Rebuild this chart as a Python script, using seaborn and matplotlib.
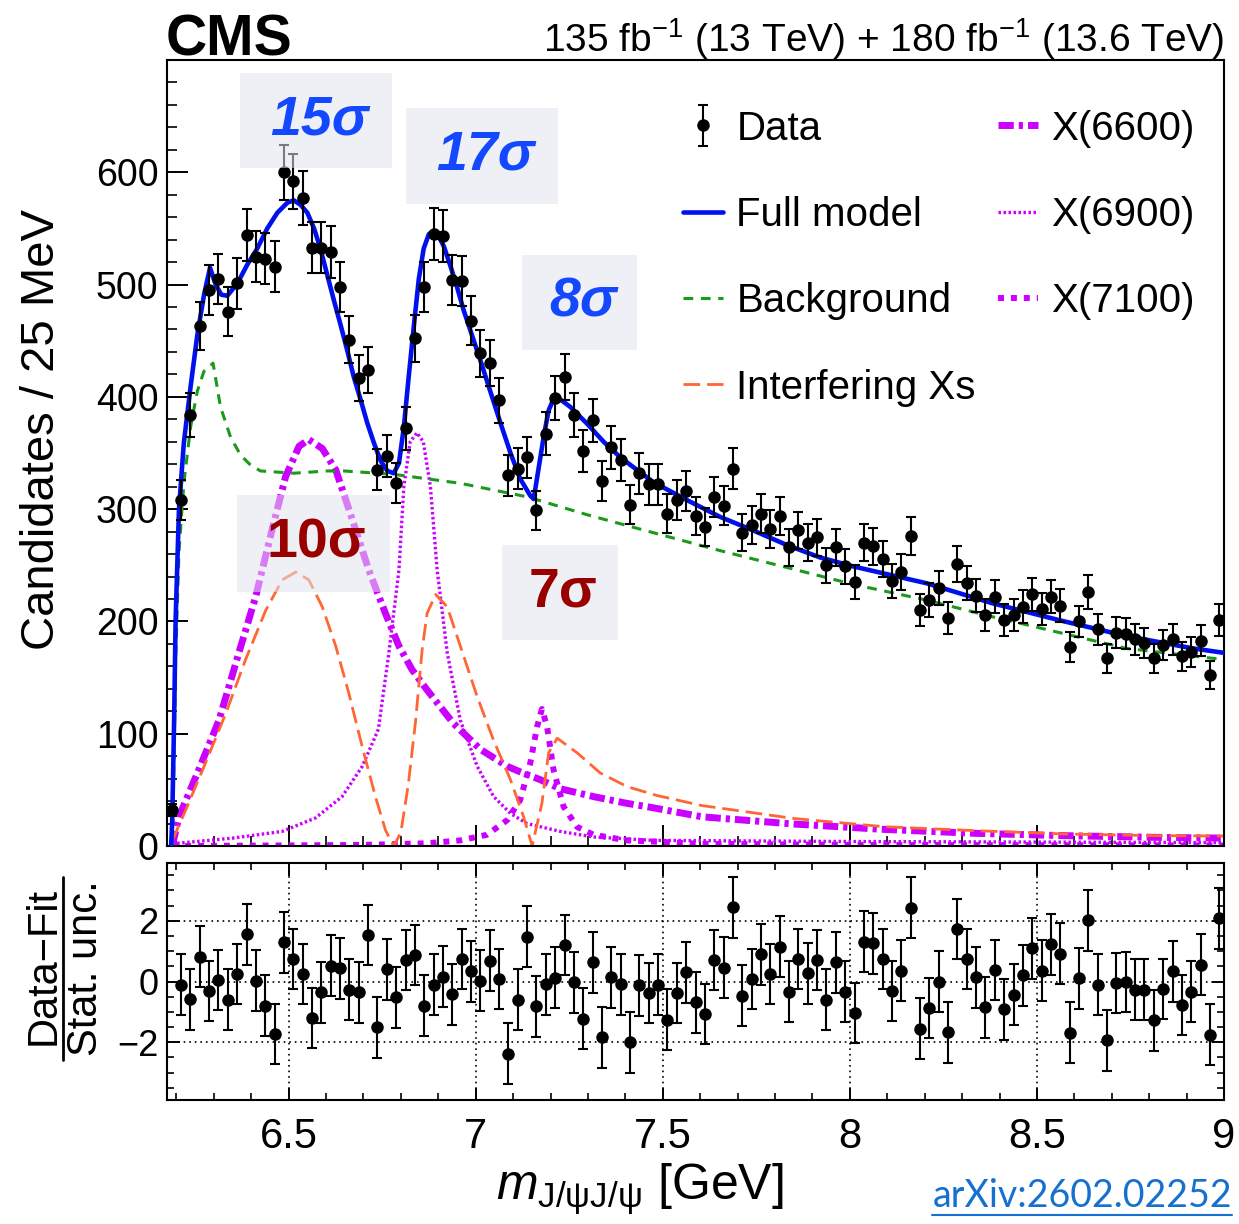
import numpy as np
import matplotlib
matplotlib.use("Agg")
import matplotlib.pyplot as plt
import seaborn as sns
from matplotlib.patches import Rectangle
from matplotlib.lines import Line2D
from matplotlib.ticker import MultipleLocator, FixedLocator, FuncFormatter

sns.set_style("ticks", {"axes.edgecolor": "black", "xtick.color": "black",
                        "ytick.color": "black", "text.color": "black",
                        "axes.labelcolor": "black"})
plt.rcParams["font.family"] = ["Liberation Sans", "DejaVu Sans"]
plt.rcParams["mathtext.fontset"] = "custom"
plt.rcParams["mathtext.rm"] = "Liberation Sans"
plt.rcParams["mathtext.it"] = "Liberation Sans:italic"
plt.rcParams["mathtext.bf"] = "Liberation Sans:bold"
plt.rcParams["lines.scale_dashes"] = False

# ---- data: candidates per 25 MeV bin, 6.175 - 9.0 GeV ----
counts = [32, 308, 384, 463, 495, 505, 476, 501, 544, 525,
          523, 516, 600, 592, 577, 533, 533, 529, 498, 451,
          417, 424, 335, 347, 323, 372, 452, 498, 545, 543,
          504, 503, 468, 439, 430, 397, 330, 336, 346, 299,
          367, 399, 418, 384, 352, 379, 325, 355, 344, 304,
          332, 322, 322, 296, 308, 316, 294, 284, 311, 303,
          336, 279, 286, 296, 282, 294, 266, 281, 270, 275,
          250, 266, 249, 235, 270, 267, 256, 236, 244, 276,
          210, 219, 230, 203, 251, 234, 223, 206, 222, 201,
          206, 213, 224, 211, 222, 214, 177, 200, 226, 193,
          167, 190, 189, 184, 181, 167, 179, 184, 169, 173,
          183, 152, 201]

# (data - fit) / stat. unc.  (first bin not shown)
pulls = [np.nan, -0.11, -0.58, 0.82, -0.31, 0.05, -0.60, 0.25, 1.55, 0.03,
         -0.80, -1.73, 1.29, 0.74, 0.25, -1.20, -0.35, 0.52, 0.44, -0.27,
         -0.36, 1.53, -1.51, 0.40, -0.52, 0.71, 0.87, -0.80, -0.11, 0.16,
         -0.42, 0.74, 0.33, 0.03, 0.68, 0.08, -2.37, -0.60, 1.48, -0.82,
         -0.09, 0.13, 1.20, -0.03, -1.22, 0.63, -1.84, 0.14, -0.09, -2.00,
         -0.13, -0.38, -0.11, -1.26, -0.38, 0.30, -0.69, -1.07, 0.71, 0.46,
         2.44, -0.47, 0.08, 0.90, 0.25, 1.15, -0.33, 0.74, 0.27, 0.71,
         -0.60, 0.63, -0.33, -1.04, 1.31, 1.26, 0.74, -0.31, 0.36, 2.43,
         -1.55, -0.87, 0.00, -1.67, 1.73, 0.74, 0.14, -0.85, 0.38, -0.91,
         -0.44, 0.20, 1.09, 0.35, 1.23, 0.91, -1.69, 0.11, 2.02, -0.11,
         -1.93, -0.05, -0.02, -0.27, -0.27, -1.28, -0.25, 0.33, -0.77, -0.33,
         0.55, -1.75, 2.08]

# fit curves (mass in GeV, candidates / 25 MeV)
model_x = [6.186, 6.189, 6.194, 6.198, 6.207, 6.220, 6.238, 6.256, 6.274, 6.290,
           6.305, 6.320, 6.336, 6.363, 6.390, 6.416, 6.443, 6.470, 6.497, 6.514,
           6.532, 6.550, 6.568, 6.585, 6.603, 6.621, 6.639, 6.657, 6.674, 6.692,
           6.710, 6.728, 6.746, 6.764, 6.781, 6.795, 6.808, 6.821, 6.835, 6.848,
           6.861, 6.875, 6.888, 6.901, 6.915, 6.933, 6.950, 6.968, 6.986, 7.013,
           7.039, 7.066, 7.093, 7.119, 7.146, 7.155, 7.168, 7.182, 7.195, 7.208,
           7.221, 7.253, 7.298, 7.342, 7.387, 7.475, 7.565, 7.654, 7.742, 7.832,
           7.920, 8.009, 8.205, 8.383, 8.561, 8.739, 8.917, 9.0]
model_y = [0, 23, 112, 201, 300, 359, 409, 455, 491, 515,
           500, 491, 490, 501, 518, 532, 550, 564, 573, 575,
           571, 564, 550, 532, 509, 486, 464, 441, 418, 398,
           377, 359, 343, 334, 332, 341, 373, 418, 464, 505,
           532, 545, 548, 543, 534, 516, 498, 477, 459, 432,
           405, 377, 350, 327, 312, 309, 336, 365, 388, 398,
           399, 391, 376, 360, 346, 324, 308, 293, 281, 268,
           257, 249, 234, 216, 201, 187, 176, 172]

bkg_x = [6.189, 6.194, 6.198, 6.207, 6.220, 6.238, 6.256, 6.274, 6.298, 6.318,
         6.345, 6.372, 6.399, 6.425, 6.470, 6.514, 6.559, 6.603, 6.648, 6.692,
         6.737, 6.781, 6.870, 6.959, 7.048, 7.137, 7.298, 7.475, 7.654, 7.832,
         8.009, 8.205, 8.383, 8.561, 8.739, 9.0]
bkg_y = [0, 83, 165, 262, 323, 373, 405, 423, 430, 391,
         364, 348, 339, 334, 333, 332, 333, 334, 334, 333,
         332, 331, 327, 323, 317, 311, 295, 279, 263, 248,
         233, 219, 204, 190, 176, 166]

intf_x = [6.189, 6.225, 6.278, 6.332, 6.385, 6.439, 6.483, 6.519, 6.554, 6.590,
          6.626, 6.661, 6.697, 6.732, 6.759, 6.781, 6.800, 6.820, 6.839, 6.857,
          6.870, 6.893, 6.924, 6.959, 7.004, 7.048, 7.093, 7.128, 7.151, 7.177,
          7.195, 7.218, 7.271, 7.333, 7.404, 7.484, 7.605, 7.848, 8.090, 8.333,
          8.576, 8.818, 9.0]
intf_y = [5, 32, 74, 118, 166, 210, 237, 244, 237, 213,
          178, 136, 88, 44, 14, 0, 12, 55, 110, 175,
          207, 224, 213, 178, 133, 94, 59, 26, 0, 38,
          83, 96, 83, 65, 53, 45, 36, 24.6, 17.2, 13.7,
          10.7, 9.2, 8.9]

x6600_x = [6.189, 6.207, 6.260, 6.314, 6.367, 6.412, 6.456, 6.492, 6.528, 6.554,
           6.590, 6.626, 6.670, 6.714, 6.759, 6.795, 6.830, 6.870, 6.941, 7.013,
           7.084, 7.119, 7.173, 7.226, 7.315, 7.404, 7.475, 7.605, 7.848, 8.090,
           8.333, 8.576, 8.818, 9.0]
x6600_y = [0, 26, 68, 112, 172, 222, 282, 329, 356, 362,
           354, 335, 291, 246, 207, 178, 157, 139, 109, 86,
           71, 66, 59, 51, 44, 38, 34, 26, 19.6, 14.8,
           11.3, 9.2, 7.7, 7.0]

x6900_x = [6.189, 6.350, 6.483, 6.572, 6.643, 6.697, 6.740, 6.768, 6.795, 6.808,
           6.825, 6.843, 6.860, 6.879, 6.897, 6.924, 6.959, 7.004, 7.048, 7.093,
           7.137, 7.226, 7.315, 7.475, 8.000, 9.0]
x6900_y = [2, 7, 13, 25, 44, 71, 104, 172, 246, 320,
           360, 368, 360, 320, 246, 172, 112, 71, 44, 29,
           20, 13, 8, 5, 4, 3]

x7100_x = [6.189, 6.500, 6.700, 6.870, 6.959, 7.030, 7.084, 7.119, 7.146, 7.164,
           7.177, 7.191, 7.208, 7.235, 7.271, 7.315, 7.404, 7.475, 7.600, 8.000, 9.0]
x7100_y = [0, 0.5, 1, 2.4, 5, 10, 23, 41, 74, 106,
           122, 106, 68, 35, 17, 10, 5, 4, 2, 1, 0.5]

legend_labels = ["Data", "Full model", "Background", "Interfering Xs",
                 "X(6600)", "X(6900)", "X(7100)"]

bin_width = 0.025
mass = 6.175 + bin_width * (np.arange(len(counts)) + 0.5)
counts = np.array(counts, dtype=float)

MAGENTA = "#cc00ff"
W, H = 1239, 1224

fig = plt.figure(figsize=(W / 100, H / 100), dpi=100)
ax = fig.add_axes([167 / W, 1 - 846 / H, 1057 / W, 786 / H])
axr = fig.add_axes([167 / W, 1 - 1100 / H, 1057 / W, 237 / H], sharex=ax)


def curve(x, y, **kw):
    sns.lineplot(x=x, y=y, ax=ax, estimator=None, sort=False, **kw)
    return ax.lines[-1]


h71 = curve(x7100_x, x7100_y, color=MAGENTA, linewidth=4.3,
            linestyle=(0, (4.3, 5.0)), zorder=2)
h69 = curve(x6900_x, x6900_y, color=MAGENTA, linewidth=2.4,
            linestyle=(0, (1.8, 1.8)), zorder=2)
h66 = curve(x6600_x, x6600_y, color=MAGENTA, linewidth=5.0,
            linestyle=(0, (11, 3.6, 3, 3.6)), zorder=2)
h_intf = curve(intf_x, intf_y, color="#ff6633", linewidth=2.0,
               linestyle=(0, (12, 5)), zorder=2)
h_bkg = curve(bkg_x, bkg_y, color="#1a991a", linewidth=2.2,
              linestyle=(0, (7, 5.5)), zorder=2.5)
h_model = curve(model_x, model_y, color="#0011ee", linewidth=3.3, zorder=3)

eb = ax.errorbar(mass, counts, yerr=np.sqrt(counts), fmt="o", color="black",
                 ms=8, elinewidth=1.5, capsize=3.5, capthick=1.5, zorder=4)

ax.set_xlim(6.175, 9.0)
ax.set_ylim(0, 700)
ax.yaxis.set_major_locator(FixedLocator(range(0, 700, 100)))
ax.yaxis.set_minor_locator(MultipleLocator(20))
ax.xaxis.set_major_locator(MultipleLocator(0.5))
ax.xaxis.set_minor_locator(MultipleLocator(0.1))
ax.tick_params(which="both", direction="in", labelbottom=False,
               top=False, right=False)
ax.tick_params(axis="y", labelsize=27, pad=6)
ax.tick_params(which="major", length=15, width=1.4)
ax.tick_params(which="minor", length=7.5, width=1.2)
ax.set_xlabel("")
ax.set_ylabel("")
for s in ax.spines.values():
    s.set_linewidth(1.5)
    s.set_visible(True)

ax.legend(handles=[eb, h_model, h_bkg, h_intf, h66, h69, h71],
          labels=legend_labels, ncol=2, loc="upper right",
          bbox_to_anchor=(0.9726, 0.937), frameon=False, fontsize=29,
          handlelength=1.0, handletextpad=0.33, columnspacing=0.55,
          labelspacing=1.2, borderpad=0, borderaxespad=0)

# significance labels
box_color = (226 / 255, 228 / 255, 237 / 255)
boxes = [
    (0.069, 0.213, 0.863, 0.983, "15\u03c3", "#1448ff", "italic"),
    (0.226, 0.370, 0.817, 0.939, "17\u03c3", "#1448ff", "italic"),
    (0.336, 0.445, 0.631, 0.752, "8\u03c3", "#1448ff", "italic"),
    (0.066, 0.211, 0.323, 0.447, "10\u03c3", "#990000", "normal"),
    (0.317, 0.427, 0.262, 0.383, "7\u03c3", "#990000", "normal"),
]
for x0, x1, y0, y1, txt, col, sty in boxes:
    ax.add_patch(Rectangle((x0, y0), x1 - x0, y1 - y0, transform=ax.transAxes,
                           facecolor=box_color, alpha=0.55, edgecolor="none",
                           zorder=5))
    ax.text((x0 + x1) / 2 + 0.003, (y0 + y1) / 2, txt, transform=ax.transAxes,
            ha="center", va="center", color=col, fontsize=40,
            fontweight="bold", fontstyle=sty, zorder=6)

# ratio panel
axr.errorbar(mass, pulls, yerr=1.0, fmt="o", color="black", ms=8,
             elinewidth=1.5, capsize=3.5, capthick=1.5, zorder=4)
axr.set_ylim(-3.9, 3.9)
axr.yaxis.set_major_locator(MultipleLocator(2))
axr.yaxis.set_minor_locator(MultipleLocator(0.5))
axr.xaxis.set_major_formatter(FuncFormatter(lambda v, p: f"{v:g}"))
axr.grid(True, which="major", color="black", linestyle=(0, (1.2, 2.8)),
         linewidth=1.2)
axr.tick_params(which="both", direction="in", top=True, right=True)
axr.tick_params(axis="y", labelsize=26, pad=6)
axr.tick_params(axis="x", labelsize=30, pad=12)
axr.tick_params(which="major", length=9, width=1.4)
axr.tick_params(which="minor", length=5, width=1.2)
for s in axr.spines.values():
    s.set_linewidth(1.5)
    s.set_visible(True)

# titles and annotations
fig.text(42 / W, 1 - 430 / H, "Candidates / 25 MeV", rotation=90,
         ha="center", va="center", fontsize=34)
# stacked ratio-panel title: numerator, fraction bar, denominator
fig.text(44 / W, 1 - 966 / H, "Data\u2212Fit", rotation=90,
         ha="center", va="center", fontsize=30)
fig.text(86 / W, 1 - 968 / H, "Stat. unc.", rotation=90,
         ha="center", va="center", fontsize=30)
fig.add_artist(Line2D([63 / W, 63 / W], [1 - 1060 / H, 1 - 877 / H],
                      color="black", linewidth=2.0))
fig.text(640 / W, 1 - 1200 / H, r"$m_{\mathregular{J/\psi J/\psi}}$ [GeV]",
         ha="center", va="baseline", fontsize=36)
fig.text(166 / W, 1 - 55 / H, "CMS", fontsize=41, fontweight="bold",
         va="baseline")
fig.text(1224 / W, 1 - 52 / H,
         r"135 fb$^{-1}$ (13 TeV) + 180 fb$^{-1}$ (13.6 TeV)",
         ha="right", va="baseline", fontsize=28)
arx = fig.text(1232 / W, 1 - 1207 / H, "arXiv:2602.02252", color="#1570d0",
               ha="right", va="baseline", fontsize=27,
               fontfamily=["Lato", "DejaVu Sans"])

fig.canvas.draw()
bb = arx.get_window_extent()
fig.add_artist(Line2D([bb.x0 / W, bb.x1 / W], [(bb.y0 - 1) / H, (bb.y0 - 1) / H],
                      color="#1570d0", linewidth=1.5))

fig.savefig("out.png", dpi=100)
